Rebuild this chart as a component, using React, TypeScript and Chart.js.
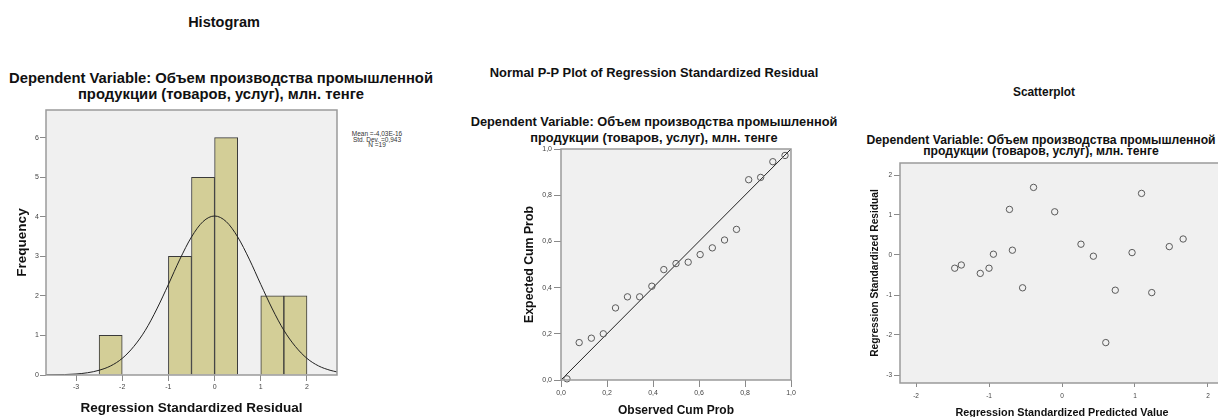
import React, { useEffect, useRef } from 'react';
import { Chart, registerables } from 'chart.js';

Chart.register(...registerables);

const FONT = '"Liberation Sans", Arial, Helvetica, sans-serif';
Chart.defaults.font.family = FONT;

// ---------- Histogram data ----------
const histBinCenters = [-2.25, -0.75, -0.25, 0.25, 1.25, 1.75];
const histFrequencies = [1, 3, 5, 6, 2, 2];
const histXTicks = [-3, -2, -1, 0, 1, 2];
const histYTicks = [0, 1, 2, 3, 4, 5, 6];
const normalCurveX = [-3.65, -3.25, -3, -2.75, -2.5, -2.25, -2, -1.75, -1.5, -1.25, -1, -0.75, -0.5, -0.25, 0, 0.25, 0.5, 0.75, 1, 1.25, 1.5, 1.75, 2, 2.25, 2.5, 2.65];
const normalCurveY = [0.002, 0.011, 0.025, 0.057, 0.12, 0.23, 0.42, 0.72, 1.13, 1.67, 2.29, 2.93, 3.49, 3.88, 4.02, 3.88, 3.49, 2.93, 2.29, 1.67, 1.13, 0.72, 0.42, 0.23, 0.12, 0.078];
const histStats = ['Mean =-4,03E-16', 'Std. Dev. =0,943', 'N =19'];

// ---------- P-P plot data ----------
const ppObserved = [0.026, 0.079, 0.132, 0.184, 0.237, 0.289, 0.342, 0.395, 0.447, 0.5, 0.553, 0.605, 0.658, 0.711, 0.763, 0.816, 0.868, 0.921, 0.974];
const ppExpected = [0.005, 0.162, 0.181, 0.2, 0.312, 0.36, 0.36, 0.406, 0.478, 0.504, 0.51, 0.543, 0.572, 0.606, 0.652, 0.867, 0.877, 0.945, 0.972];
const ppTicks = [0, 0.2, 0.4, 0.6, 0.8, 1.0];
const ppDiagonal = [0, 1];

// ---------- Scatterplot data ----------
const scatterPredicted = [-1.47, -1.38, -1.12, -1.0, -0.94, -0.72, -0.68, -0.54, -0.39, -0.1, 0.26, 0.43, 0.6, 0.73, 0.96, 1.09, 1.23, 1.47, 1.66];
const scatterResidual = [-0.33, -0.25, -0.46, -0.33, 0.02, 1.14, 0.12, -0.82, 1.69, 1.08, 0.27, -0.03, -2.19, -0.88, 0.06, 1.54, -0.94, 0.21, 0.4];
const scatterXTicks = [-2, -1, 0, 1, 2];
const scatterYTicks = [-3, -2, -1, 0, 1, 2];

const SUBTITLE_1 = 'Dependent Variable: Объем производства промышленной';
const SUBTITLE_2 = 'продукции (товаров, услуг), млн. тенге';

const framePlugin = {
  id: 'spssFrame',
  beforeDraw(chart: any) {
    const { ctx, chartArea: a } = chart;
    ctx.save();
    ctx.fillStyle = '#F0F0F0';
    ctx.fillRect(a.left, a.top, a.right - a.left, a.bottom - a.top);
    ctx.restore();
  },
  afterDatasetsDraw(chart: any) {
    const { ctx, chartArea: a } = chart;
    ctx.save();
    ctx.strokeStyle = '#9A9A9A';
    ctx.lineWidth = 1.5;
    ctx.strokeRect(a.left, a.top, a.right - a.left, a.bottom - a.top);
    ctx.restore();
  },
};

type AxisOpts = {
  min: number;
  max: number;
  ticks: number[];
  size: number;
  horizontal: boolean;
  title: string;
  titleSize: number;
  titlePad: any;
  tickLen: number;
  tickPad: number;
  tickSize: number;
  fmt: (v: number) => string;
};

function axis(o: AxisOpts) {
  return {
    type: 'linear',
    min: o.min,
    max: o.max,
    offset: false,
    afterBuildTicks: (s: any) => {
      s.ticks = o.ticks.map((v) => ({ value: v }));
    },
    afterFit: (s: any) => {
      if (o.horizontal) {
        s.height = o.size;
        s.paddingLeft = 0;
        s.paddingRight = 0;
      } else {
        s.width = o.size;
        s.paddingTop = 0;
        s.paddingBottom = 0;
      }
    },
    grid: {
      display: true,
      offset: false,
      drawOnChartArea: false,
      drawTicks: true,
      tickLength: o.tickLen,
      color: '#8A8A8A',
      lineWidth: 1,
    },
    border: { display: false },
    ticks: {
      autoSkip: false,
      maxRotation: 0,
      minRotation: 0,
      padding: o.tickPad,
      color: '#444',
      font: { family: FONT, size: o.tickSize },
      callback: (v: any) => o.fmt(Number(v)),
    },
    title: {
      display: true,
      text: o.title,
      color: '#111',
      font: { family: FONT, size: o.titleSize, weight: 'bold' },
      padding: o.titlePad,
    },
  };
}

const baseOptions = (padding: any, scales: any) => ({
  responsive: false,
  animation: false,
  events: [],
  layout: { padding },
  plugins: { legend: { display: false }, tooltip: { enabled: false }, title: { display: false } },
  scales,
});

function useChart(ref: React.RefObject<HTMLCanvasElement>, build: () => any) {
  useEffect(() => {
    if (!ref.current) return;
    const chart = new Chart(ref.current, build());
    return () => chart.destroy();
  }, []);
}

const Text = ({ cx, top, size, lh, bold = true, lines, color = '#111' }: any) => (
  <div
    style={{
      position: 'absolute',
      left: cx,
      top,
      transform: 'translateX(-50%)',
      whiteSpace: 'nowrap',
      textAlign: 'center',
      fontFamily: FONT,
      fontSize: size,
      lineHeight: lh + 'px',
      fontWeight: bold ? 'bold' : 'normal',
      color,
    }}
  >
    {lines.map((l: string, i: number) => (
      <div key={i}>{l}</div>
    ))}
  </div>
);

export default function App() {
  const histRef = useRef<HTMLCanvasElement>(null);
  const ppRef = useRef<HTMLCanvasElement>(null);
  const scRef = useRef<HTMLCanvasElement>(null);

  useChart(histRef, () => ({
    type: 'bar',
    data: {
      datasets: [
        {
          type: 'line',
          data: normalCurveX.map((x, i) => ({ x, y: normalCurveY[i] })),
          borderColor: '#222',
          borderWidth: 1,
          pointRadius: 0,
          cubicInterpolationMode: 'monotone',
          fill: false,
          order: 0,
        },
        {
          type: 'bar',
          data: histBinCenters.map((x, i) => ({ x, y: histFrequencies[i] })),
          backgroundColor: '#D3CE97',
          borderColor: '#3A3A3A',
          borderWidth: 1,
          borderSkipped: 'bottom',
          barPercentage: 1,
          categoryPercentage: 1,
          order: 1,
        },
      ],
    },
    options: baseOptions(
      { left: 0, top: 10, right: 13, bottom: 0 },
      {
        x: axis({
          min: -3.65, max: 2.65, ticks: histXTicks, size: 42, horizontal: true,
          title: 'Regression Standardized Residual', titleSize: 13.5, titlePad: { top: 0, bottom: 0.9 },
          tickLen: 6, tickPad: 2, tickSize: 7, fmt: (v) => String(v),
        }),
        y: axis({
          min: 0, max: 6.7, ticks: histYTicks, size: 46, horizontal: false,
          title: 'Frequency', titleSize: 13.5, titlePad: { top: 14.5, bottom: 0 },
          tickLen: 6, tickPad: 1, tickSize: 7, fmt: (v) => String(v),
        }),
      }
    ),
    plugins: [framePlugin],
  }));

  useChart(ppRef, () => ({
    type: 'scatter',
    data: {
      datasets: [
        {
          data: ppDiagonal.map((v) => ({ x: v, y: v })),
          showLine: true,
          borderColor: '#222',
          borderWidth: 1,
          pointRadius: 0,
          order: 1,
        },
        {
          data: ppObserved.map((x, i) => ({ x, y: ppExpected[i] })),
          pointStyle: 'circle',
          pointRadius: 3.2,
          borderColor: '#5A5A5A',
          backgroundColor: 'rgba(0,0,0,0)',
          borderWidth: 1,
          clip: false,
          order: 0,
        },
      ],
    },
    options: baseOptions(
      { left: 0, top: 9, right: 9, bottom: 0 },
      {
        x: axis({
          min: 0, max: 1, ticks: ppTicks, size: 40, horizontal: true,
          title: 'Observed Cum Prob', titleSize: 12, titlePad: { top: 0, bottom: 1.8 },
          tickLen: 7, tickPad: 1.5, tickSize: 7, fmt: (v) => v.toFixed(1).replace('.', ','),
        }),
        y: axis({
          min: 0, max: 1, ticks: ppTicks, size: 61, horizontal: false,
          title: 'Expected Cum Prob', titleSize: 12.3, titlePad: { top: 22.6, bottom: 0 },
          tickLen: 7, tickPad: 2, tickSize: 7, fmt: (v) => v.toFixed(1).replace('.', ','),
        }),
      }
    ),
    plugins: [framePlugin],
  }));

  useChart(scRef, () => ({
    type: 'scatter',
    data: {
      datasets: [
        {
          data: scatterPredicted.map((x, i) => ({ x, y: scatterResidual[i] })),
          pointStyle: 'circle',
          pointRadius: 3.2,
          borderColor: '#5A5A5A',
          backgroundColor: 'rgba(0,0,0,0)',
          borderWidth: 1,
        },
      ],
    },
    options: baseOptions(
      { left: 0, top: 8, right: 11, bottom: 0 },
      {
        x: axis({
          min: -2.22, max: 2.22, ticks: scatterXTicks, size: 38, horizontal: true,
          title: 'Regression Standardized Predicted Value', titleSize: 10.8, titlePad: { top: 0, bottom: 1.5 },
          tickLen: 4, tickPad: 5, tickSize: 6.5, fmt: (v) => String(v),
        }),
        y: axis({
          min: -3.2, max: 2.3, ticks: scatterYTicks, size: 50, horizontal: false,
          title: 'Regression Standardized Residual', titleSize: 10.2, titlePad: { top: 18.9, bottom: 0 },
          tickLen: 6, tickPad: 2, tickSize: 6.5, fmt: (v) => String(v),
        }),
      }
    ),
    plugins: [framePlugin],
  }));

  return (
    <div
      style={{
        position: 'absolute',
        left: 0,
        top: 0,
        width: 1218,
        height: 417,
        overflow: 'hidden',
        background: '#fff',
      }}
    >
      {/* Histogram texts */}
      <Text cx={224} top={15} size={14.5} lh={15} lines={['Histogram']} />
      <Text cx={221} top={71} size={14.8} lh={15.5} lines={[SUBTITLE_1, SUBTITLE_2]} />
      <Text cx={377} top={131} size={6.5} lh={5.6} bold={false} color="#333" lines={histStats} />

      {/* P-P texts */}
      <Text cx={654} top={66} size={12.9} lh={14} lines={['Normal P-P Plot of Regression Standardized Residual']} />
      <Text cx={654} top={114} size={12.8} lh={15.5} lines={[SUBTITLE_1, SUBTITLE_2]} />

      {/* Scatter texts */}
      <Text cx={1044} top={86} size={11.9} lh={12} lines={['Scatterplot']} />
      <Text cx={1041} top={134.5} size={12.2} lh={11} lines={[SUBTITLE_1, SUBTITLE_2]} />

      <canvas ref={histRef} width={350} height={317} style={{ position: 'absolute', left: 0, top: 100, width: 350, height: 317 }} />
      <canvas ref={ppRef} width={300} height={280} style={{ position: 'absolute', left: 500, top: 140, width: 300, height: 280 }} />
      <canvas ref={scRef} width={385} height={266} style={{ position: 'absolute', left: 850, top: 155, width: 385, height: 266 }} />
    </div>
  );
}
